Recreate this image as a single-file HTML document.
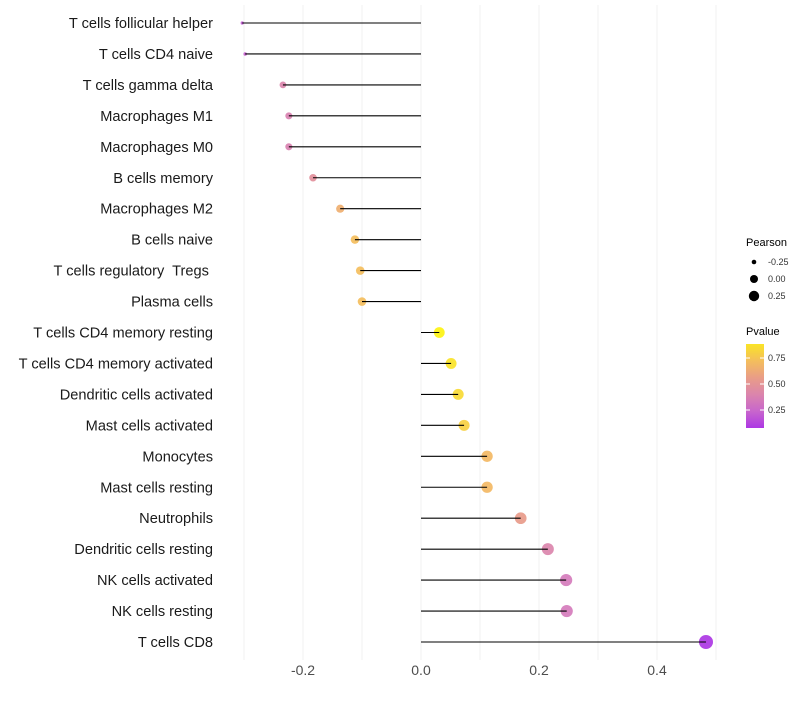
<!DOCTYPE html>
<html><head><meta charset="utf-8"><style>
body{margin:0;background:#fff;font-family:"Liberation Sans",sans-serif}
svg text{font-family:"Liberation Sans",sans-serif;white-space:pre}
</style></head><body>
<svg id="c" width="800" height="700"></svg>
<script>
const categories=["T cells follicular helper","T cells CD4 naive","T cells gamma delta","Macrophages M1","Macrophages M0","B cells memory","Macrophages M2","B cells naive","T cells regulatory  Tregs ","Plasma cells","T cells CD4 memory resting","T cells CD4 memory activated","Dendritic cells activated","Mast cells activated","Monocytes","Mast cells resting","Neutrophils","Dendritic cells resting","NK cells activated","NK cells resting","T cells CD8"];
const pearson=[-0.303,-0.298,-0.234,-0.224,-0.224,-0.183,-0.137,-0.112,-0.103,-0.100,0.031,0.051,0.063,0.073,0.112,0.112,0.169,0.215,0.246,0.247,0.483];
const pvalue=[0.2,0.22,0.4,0.38,0.38,0.48,0.65,0.72,0.72,0.72,0.95,0.88,0.84,0.8,0.7,0.7,0.55,0.4,0.33,0.33,0.08];
const xTicks=[-0.2,0,0.2,0.4];
const gridVals=[-0.3,-0.2,-0.1,0,0.1,0.2,0.3,0.4,0.5];
const NS="http://www.w3.org/2000/svg",svg=document.getElementById('c');
const x=v=>421+v*590, y=i=>23+i*30.95;
function mk(t,a,p){const e=document.createElementNS(NS,t);for(const k in a)e.setAttribute(k,a[k]);(p||svg).appendChild(e);return e;}
const stops=[[0,[160,32,240]],[0.3,[210,120,195]],[0.5,[228,145,150]],[0.7,[243,185,100]],[1,[255,255,0]]];
function col(p){for(let i=1;i<stops.length;i++){if(p<=stops[i][0]){const a=stops[i-1],b=stops[i],t=(p-a[0])/(b[0]-a[0]);return 'rgb('+a[1].map((c,j)=>Math.round(c+(b[1][j]-c)*t)).join(',')+')';}}return 'rgb(255,255,0)';}
const sizeKnots=[[-0.31,1.4],[-0.29,2],[-0.23,3.5],[-0.1,4.3],[0.03,5.4],[0.25,6.1],[0.5,7.1]];
function rad(v){for(let i=1;i<sizeKnots.length;i++){if(v<=sizeKnots[i][0]){const a=sizeKnots[i-1],b=sizeKnots[i];return a[1]+(b[1]-a[1])*(v-a[0])/(b[0]-a[0]);}}return 7.1;}
gridVals.forEach(g=>{const l=mk('line',{x1:x(g),x2:x(g),y1:5,y2:660,stroke:'#f0f0f0','stroke-width':1});

});
xTicks.forEach(t=>{const e=mk('text',{x:x(t),y:675,'text-anchor':'middle','font-size':14,fill:'#4d4d4d'});e.textContent=(t===0?'0.0':t.toFixed(1));

});
categories.forEach((c,i)=>{
const t=mk('text',{x:213,y:y(i)+5,'text-anchor':'end','font-size':14.6,fill:'#1a1a1a'});t.textContent=c;


const d=mk('circle',{cx:x(pearson[i]),cy:y(i),r:rad(pearson[i]),fill:col(pvalue[i]),'fill-opacity':0.92});


const l=mk('line',{x1:x(0),x2:x(pearson[i]),y1:y(i),y2:y(i),stroke:'#000','stroke-width':1.1});


});
const lg=mk('g',{});


let e=mk('text',{x:746,y:246,'font-size':11},lg);e.textContent='Pearson';
[[-0.25,262,2.3],[0,279,4],[0.25,296,5.2]].forEach(([v,yy,r])=>{mk('circle',{cx:754,cy:yy,r:r,fill:'#000'},lg);const t=mk('text',{x:768,y:yy+3,'font-size':9,fill:'#333'},lg);t.textContent=v===0?'0.00':v.toFixed(2);});
e=mk('text',{x:746,y:335,'font-size':11},lg);e.textContent='Pvalue';
const defs=mk('defs',{}),gr=mk('linearGradient',{id:'pg',x1:0,y1:1,x2:0,y2:0},defs);
[0,0.2,0.4,0.6,0.8,1].forEach(f=>{const p=0.077+f*(0.885-0.077);mk('stop',{offset:f,'stop-color':col(p)},gr);});
mk('rect',{x:746,y:344,width:18,height:84,fill:'url(#pg)'},lg);
[[0.75,358],[0.5,384],[0.25,410]].forEach(([v,yy])=>{mk('line',{x1:746,x2:750,y1:yy,y2:yy,stroke:'#fff'},lg);mk('line',{x1:760,x2:764,y1:yy,y2:yy,stroke:'#fff'},lg);const t=mk('text',{x:768,y:yy+3,'font-size':9,fill:'#333'},lg);t.textContent=v.toFixed(2);});
</script>
</body></html>
